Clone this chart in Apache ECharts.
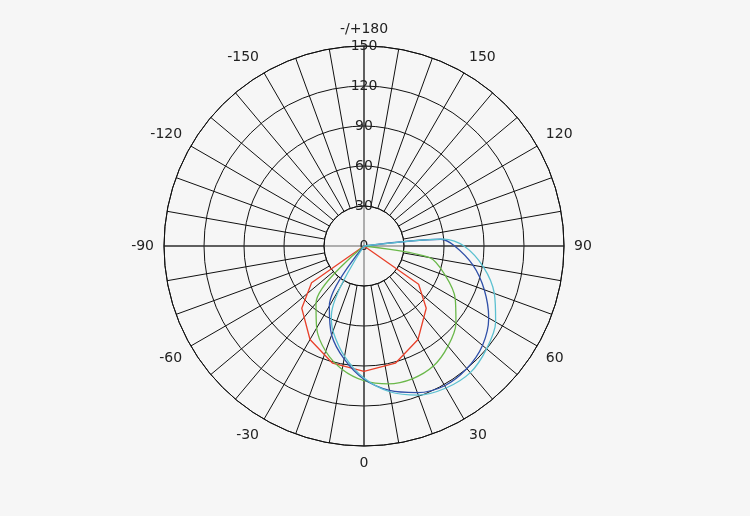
<!DOCTYPE html>
<html><head><meta charset="utf-8">
<script src="https://cdn.jsdelivr.net/npm/echarts@6/dist/echarts.min.js"></script>
<style>html,body{margin:0;background:#f6f6f6}#c{width:750px;height:516px}</style>
</head><body><div id="c"></div>
<script>
const redAngles = [-90,-55,-45,-30,-15,0,15,30,45,55,90];
const redValues = [0,48,66,81,91,94,91,81,66,50,0];
const greenAngles = [-90,-40,-30,-20,-10,0,10,20,30,40,50,60,70,80,90];
const greenValues = [0,56,71,84,94,101,105,106,104,98,90,79,65,50,0];
const blueAngles = [-90,-30,-20,-10,0,10,20,30,40,50,60,70,80,90,95,180];
const blueValues = [0,52,71,86,100,110,117,121,120,116,108,96,83,68,58,0];
const cyanAngles = [-90,-25,-20,-10,0,10,20,30,40,50,60,70,80,90,95,180];
const cyanValues = [0,58,68,84,99,111,119,123,124,120,114,104,91,75,60,0];
const radiusTicks = [0,30,60,90,120,150];

const pair = (a, v) => a.map((x, i) => [v[i], x]);
const font = {fontFamily: 'DejaVu Sans', fontSize: 14, color: '#222'};
const chart = echarts.init(document.getElementById('c'));
chart.setOption({
  backgroundColor: '#f6f6f6',
  animation: false,
  polar: [
    {center: [364, 246], radius: [0, 200]},
    {center: [364, 246], radius: [40, 200]}
  ],
  angleAxis: [
    {polarIndex: 0, type: 'value', min: -180, max: 180, interval: 90, startAngle: 90, clockwise: false,
     axisLine: {show: false}, axisTick: {show: false}, axisLabel: {show: false},
     splitLine: {lineStyle: {color: '#666', width: 1}}},
    {polarIndex: 1, type: 'value', min: -180, max: 180, interval: 10, startAngle: 90, clockwise: false,
     axisLine: {lineStyle: {color: '#111', width: 1}}, axisTick: {show: false},
     axisLabel: Object.assign({margin: 10, formatter: v => v === -180 ? '-/+180' : (v === 180 || v % 30 !== 0 ? '' : String(v))}, font),
     splitLine: {lineStyle: {color: '#111', width: 1}}}
  ],
  radiusAxis: [
    {polarIndex: 0, type: 'value', min: 0, max: 150, interval: 30,
     axisLine: {show: false}, axisTick: {show: false},
     axisLabel: Object.assign({align: 'center', margin: 0, formatter: v => radiusTicks.includes(v) ? String(v) : ''}, font),
     splitLine: {lineStyle: {color: '#111', width: 1}}},
    {polarIndex: 1, type: 'value', min: 0, max: 1, axisLine: {show: false}, axisTick: {show: false}, axisLabel: {show: false}, splitLine: {show: false}}
  ],
  series: [
    {type: 'line', coordinateSystem: 'polar', polarIndex: 0, data: pair(redAngles, redValues), symbol: 'none', lineStyle: {color: '#e8402a', width: 1.3}},
    {type: 'line', coordinateSystem: 'polar', polarIndex: 0, data: pair(greenAngles, greenValues), symbol: 'none', smooth: 0.3, lineStyle: {color: '#6ab84a', width: 1.3}},
    {type: 'line', coordinateSystem: 'polar', polarIndex: 0, data: pair(blueAngles, blueValues), symbol: 'none', smooth: 0.3, lineStyle: {color: '#3050a8', width: 1.3}},
    {type: 'line', coordinateSystem: 'polar', polarIndex: 0, data: pair(cyanAngles, cyanValues), symbol: 'none', smooth: 0.3, lineStyle: {color: '#5bc0d0', width: 1.3}}
  ]
});
</script></body></html>
